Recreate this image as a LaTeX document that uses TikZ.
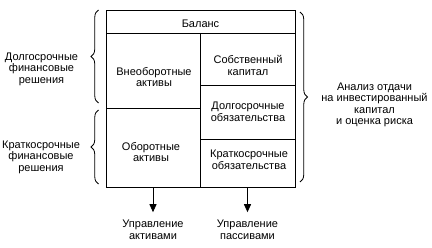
\documentclass[tikz,border=0pt]{standalone}
\usepackage{fontspec}
\setmainfont{Liberation Sans}
\usetikzlibrary{positioning, arrows.meta, decorations.pathreplacing}

\begin{document}
\begin{tikzpicture}[
  x=1pt, y=1pt,
  every node/.style={font=\fontsize{11}{11.5}\selectfont, align=center, inner sep=1pt},
  grid/.style={line width=0.9pt},
  bracket/.style={decorate, decoration={brace, amplitude=7.5pt}, line width=0.8pt},
  flow/.style={-{Triangle[length=8pt, width=7pt]}, line width=0.9pt},
]
\useasboundingbox (0,0) rectangle (432,247);

% --- Balance sheet frame and cell grid
\node[draw, grid, minimum width=189pt, minimum height=177pt, inner sep=0pt] (sheet) at (200.5,148.5) {};
\draw[grid] (106,214) -- (295,214);
\draw[grid] (200,214) -- (200,60);
\draw[grid] (106,139) -- (200,139);
\draw[grid] (200,162) -- (295,162);
\draw[grid] (200,108) -- (295,108);

% --- Cell labels
\node (title) at (200.5,223.5) {Баланс};
\node (fixed) at (154,170) {Внеоборотные\\активы};
\node (current) at (151,95) {Оборотные\\активы};
\node (equity) at (248,181.5) {Собственный\\капитал};
\node (longdebt) at (248,135) {Долгосрочные\\обязательства};
\node (shortdebt) at (249,87) {Краткосрочные\\обязательства};

% --- Decision groups with braces
\node (longterm) at (41.5,178) {Долгосрочные\\финансовые\\решения};
\node (shortterm) at (41,90) {Краткосрочные\\финансовые\\решения};
\node (analysis) at (374.5,142) {Анализ отдачи\\на инвестированный\\капитал\\и оценка риска};
\draw[bracket] (98.5,144) -- (98.5,237);
\draw[bracket] (98.5,63) -- (98.5,137);
\draw[bracket] (300,235) -- (300,65);

% --- Management arrows below the sheet
\node (assetmgmt) at (153,17) {Управление\\активами};
\node (liabmgmt) at (247.5,17) {Управление\\пассивами};
\draw[flow, shorten >=7pt] (sheet.south -| assetmgmt.north) -- (assetmgmt.north);
\draw[flow, shorten >=7pt] (sheet.south -| liabmgmt.north) -- (liabmgmt.north);

\end{tikzpicture}
\end{document}
